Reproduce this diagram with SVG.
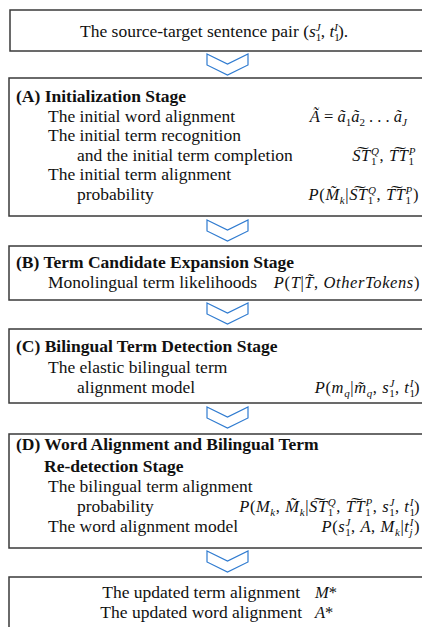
<svg xmlns="http://www.w3.org/2000/svg" width="422" height="627" viewBox="0 0 422 627">
<defs>
<style>
.box{fill:#fff;stroke:#3a3a3a;stroke-width:1.5}
.chev{fill:none;stroke:#2f7bd0;stroke-width:1.2;stroke-linejoin:miter}
text{font-family:"Liberation Serif","Times New Roman",serif;font-size:17.5px;fill:#111}
.b{font-weight:bold}
.m{font-size:16.5px;font-style:italic;letter-spacing:0.6px}
.m0{letter-spacing:0}
.n{font-style:normal}
.s{font-size:11px}
</style>
<path id="chv" d="M0,0 L20.5,10 L41,0 L41,11 L20.5,21 L0,11 Z"/>
</defs>
<rect width="422" height="627" fill="#fff"/>
<g id="connectors">
<use href="#chv" class="chev" x="207" y="54"/>
<use href="#chv" class="chev" x="207" y="220"/>
<use href="#chv" class="chev" x="207" y="303"/>
<use href="#chv" class="chev" x="207" y="407"/>
<use href="#chv" class="chev" x="207" y="551"/>
</g>
<g id="input">
<rect class="box" x="10" y="10" width="430" height="41"/>
<text x="80" y="37">The source-target sentence pair (<tspan font-style="italic">s</tspan><tspan class="s" baseline-shift="-4">1</tspan><tspan class="s" font-style="italic" dx="-5.5" baseline-shift="6">J</tspan>, <tspan font-style="italic">t</tspan><tspan class="s" baseline-shift="-4">1</tspan><tspan class="s" font-style="italic" dx="-5.5" baseline-shift="6">I</tspan>).</text>
</g>
<g id="stageA">
<rect class="box" x="9" y="78" width="430" height="138"/>
<text class="b" x="16" y="102">(A) Initialization Stage</text>
<text x="48" y="122">The initial word alignment</text>
<text x="48" y="141">The initial term recognition</text>
<text x="77" y="161">and the initial term completion</text>
<text x="48" y="180">The initial term alignment</text>
<text x="77" y="200">probability</text>
<text class="m m0" x="407" y="122" text-anchor="end">Ã <tspan class="n">=</tspan> ã<tspan class="s n" baseline-shift="-4">1</tspan>ã<tspan class="s n" baseline-shift="-4">2</tspan> <tspan class="n">. . .</tspan> ã<tspan class="s" baseline-shift="-4">J</tspan></text>
<text class="m" x="416" y="161" text-anchor="end">S͠T<tspan class="s n" baseline-shift="-4">1</tspan><tspan class="s" dx="-6" baseline-shift="6">Q</tspan><tspan class="n">, </tspan>T͠T<tspan class="s n" baseline-shift="-4">1</tspan><tspan class="s" dx="-6" baseline-shift="6">P</tspan></text>
<text class="m" x="419" y="200" text-anchor="end">P<tspan class="n">(</tspan>M̃<tspan class="s" baseline-shift="-4">k</tspan><tspan class="n">|</tspan>S͠T<tspan class="s n" baseline-shift="-4">1</tspan><tspan class="s" dx="-6" baseline-shift="6">Q</tspan><tspan class="n">, </tspan>T͠T<tspan class="s n" baseline-shift="-4">1</tspan><tspan class="s" dx="-6" baseline-shift="6">P</tspan><tspan class="n">)</tspan></text>
</g>
<g id="stageB">
<rect class="box" x="9" y="246" width="430" height="54"/>
<text class="b" x="16" y="268">(B) Term Candidate Expansion Stage</text>
<text x="48" y="288">Monolingual term likelihoods</text>
<text class="m" x="420" y="288" text-anchor="end">P<tspan class="n">(</tspan>T<tspan class="n">|</tspan>T̃<tspan class="n">, </tspan>OtherTokens<tspan class="n">)</tspan></text>
</g>
<g id="stageC">
<rect class="box" x="9" y="329" width="430" height="74"/>
<text class="b" x="16" y="352">(C) Bilingual Term Detection Stage</text>
<text x="48" y="373">The elastic bilingual term</text>
<text x="77" y="393">alignment model</text>
<text class="m" x="420" y="393" text-anchor="end">P<tspan class="n">(</tspan>m<tspan class="s" baseline-shift="-4">q</tspan><tspan class="n">|</tspan>m̃<tspan class="s" baseline-shift="-4">q</tspan><tspan class="n">, </tspan>s<tspan class="s n" baseline-shift="-4">1</tspan><tspan class="s" dx="-6" baseline-shift="6">J</tspan><tspan class="n">, </tspan>t<tspan class="s n" baseline-shift="-4">1</tspan><tspan class="s" dx="-6" baseline-shift="6">I</tspan><tspan class="n">)</tspan></text>
</g>
<g id="stageD">
<rect class="box" x="9" y="434" width="430" height="114"/>
<text class="b" x="16" y="450">(D) Word Alignment and Bilingual Term</text>
<text class="b" x="44" y="472">Re-detection Stage</text>
<text x="48" y="492">The bilingual term alignment</text>
<text x="77" y="512">probability</text>
<text x="48" y="532">The word alignment model</text>
<text class="m" x="420" y="512" text-anchor="end">P<tspan class="n">(</tspan>M<tspan class="s" baseline-shift="-4">k</tspan><tspan class="n">, </tspan>M̃<tspan class="s" baseline-shift="-4">k</tspan><tspan class="n">|</tspan>S͠T<tspan class="s n" baseline-shift="-4">1</tspan><tspan class="s" dx="-6" baseline-shift="6">Q</tspan><tspan class="n">, </tspan>T͠T<tspan class="s n" baseline-shift="-4">1</tspan><tspan class="s" dx="-6" baseline-shift="6">P</tspan><tspan class="n">, </tspan>s<tspan class="s n" baseline-shift="-4">1</tspan><tspan class="s" dx="-6" baseline-shift="6">J</tspan><tspan class="n">, </tspan>t<tspan class="s n" baseline-shift="-4">1</tspan><tspan class="s" dx="-6" baseline-shift="6">I</tspan><tspan class="n">)</tspan></text>
<text class="m" x="420" y="532" text-anchor="end">P<tspan class="n">(</tspan>s<tspan class="s n" baseline-shift="-4">1</tspan><tspan class="s" dx="-6" baseline-shift="6">J</tspan><tspan class="n">, </tspan>A<tspan class="n">, </tspan>M<tspan class="s" baseline-shift="-4">k</tspan><tspan class="n">|</tspan>t<tspan class="s" baseline-shift="-4">j</tspan><tspan class="s" dx="-3.5" baseline-shift="6">I</tspan><tspan class="n">)</tspan></text>
</g>
<g id="output">
<rect class="box" x="9" y="577" width="430" height="70"/>
<text x="300" y="598" text-anchor="end">The updated term alignment</text>
<text x="302" y="618" text-anchor="end">The updated word alignment</text>
<text class="m m0" x="315" y="598" font-size="14">M<tspan class="n">*</tspan></text>
<text class="m m0" x="315" y="618" font-size="14">A<tspan class="n">*</tspan></text>
</g>
</svg>
